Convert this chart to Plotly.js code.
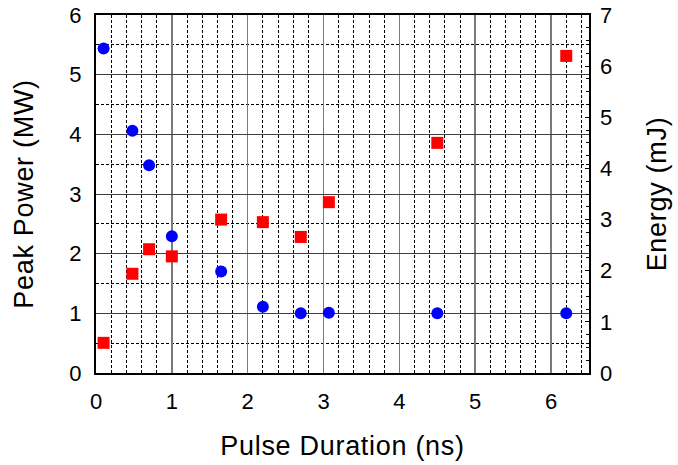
<!DOCTYPE html>
<html>
<head>
<meta charset="utf-8">
<script src="https://cdn.plot.ly/plotly-3.0.1.min.js"></script>
<style>
  html, body { margin: 0; padding: 0; background: #fff; }
  #chart { width: 678px; height: 465px; }
  /* axis titles are set with slightly open tracking */
  .xtitle, .ytitle, .y2title { letter-spacing: 0.7px; }
</style>
</head>
<body>
<div id="chart"></div>
<script>
// Pulse duration (ns) shared by both series
const pulseDuration = [0.1, 0.48, 0.7, 1.0, 1.65, 2.2, 2.7, 3.07, 4.5, 6.2];
// Peak power (MW), left axis
const peakPower = [5.44, 4.06, 3.48, 2.29, 1.70, 1.11, 1.0, 1.01, 1.0, 1.0];
// Pulse energy (mJ), right axis
const energy = [0.59, 1.94, 2.42, 2.28, 3.0, 2.95, 2.66, 3.34, 4.5, 6.2];

const FONT = 'Liberation Sans, Arial, sans-serif';

const traces = [
  {
    x: pulseDuration, y: peakPower, type: 'scatter', mode: 'markers',
    name: 'Peak Power',
    marker: { symbol: 'circle', size: 12, color: '#0000ff' },
    yaxis: 'y', cliponaxis: false
  },
  {
    x: pulseDuration, y: energy, type: 'scatter', mode: 'markers',
    name: 'Energy',
    marker: { symbol: 'square', size: 12, color: '#ff0000' },
    yaxis: 'y2', cliponaxis: false
  }
];

const layout = {
  width: 678, height: 465,
  margin: { l: 96, r: 89, t: 15, b: 92, pad: 0 },
  paper_bgcolor: '#ffffff', plot_bgcolor: '#ffffff',
  showlegend: false,
  font: { family: FONT, size: 22, color: '#000' },
  xaxis: {
    range: [0, 6.5], dtick: 1, tick0: 0,
    showgrid: true, gridcolor: '#7a7a7a', gridwidth: 1.5,
    minor: { dtick: 0.2, tick0: 0, showgrid: true, gridcolor: '#000', gridwidth: 1, griddash: '3px,2px' },
    zeroline: false, showline: true, linecolor: '#000', linewidth: 2, mirror: true,
    ticks: '', ticklabelstandoff: 8,
    tickfont: { family: FONT, size: 22 },
    title: { text: 'Pulse Duration (ns)', font: { family: FONT, size: 27 }, standoff: 23 }
  },
  yaxis: {
    range: [0, 6], dtick: 1, tick0: 0,
    showgrid: true, gridcolor: '#404040', gridwidth: 1,
    minor: { dtick: 0.5, tick0: 0, showgrid: true, gridcolor: '#000', gridwidth: 1, griddash: '3px,2px' },
    zeroline: false, showline: true, linecolor: '#000', linewidth: 2, mirror: true,
    ticks: '', ticklabelstandoff: 8,
    tickfont: { family: FONT, size: 22 },
    title: { text: 'Peak Power (MW)', font: { family: FONT, size: 27 }, standoff: 28 }
  },
  yaxis2: {
    overlaying: 'y', side: 'right',
    range: [0, 7], dtick: 1, tick0: 0,
    showgrid: false, zeroline: false, showline: false,
    ticks: 'inside', ticklen: 4, tickwidth: 1, tickcolor: '#000',
    minor: { dtick: 0.25, tick0: 0, ticks: 'inside', ticklen: 3, tickwidth: 1, tickcolor: '#000', showgrid: false },
    ticklabelstandoff: 10,
    tickfont: { family: FONT, size: 22 },
    title: { text: 'Energy (mJ)', font: { family: FONT, size: 27 }, standoff: 35 }
  }
};

Plotly.newPlot('chart', traces, layout, { staticPlot: true, displayModeBar: false });
</script>
</body>
</html>
